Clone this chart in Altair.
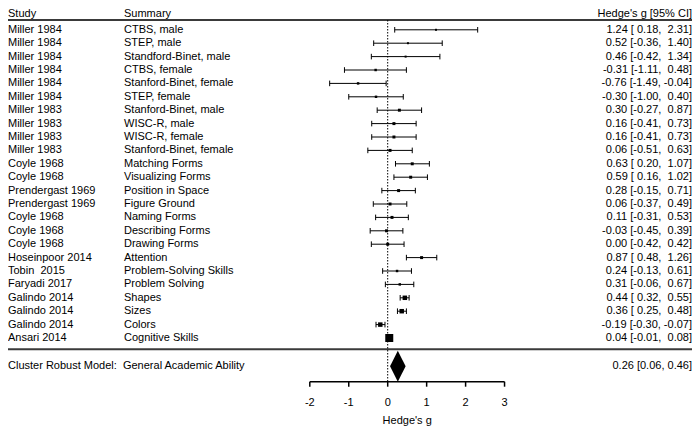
import altair as alt
import pandas as pd

# ---------------- data ----------------
studies = ["Miller 1984", "Miller 1984", "Miller 1984", "Miller 1984", "Miller 1984", "Miller 1984",
           "Miller 1983", "Miller 1983", "Miller 1983", "Miller 1983",
           "Coyle 1968", "Coyle 1968", "Prendergast 1969", "Prendergast 1969",
           "Coyle 1968", "Coyle 1968", "Coyle 1968", "Hoseinpoor 2014",
           "Tobin\u00a0 2015", "Faryadi 2017", "Galindo 2014", "Galindo 2014", "Galindo 2014",
           "Ansari 2014"]
summaries = ["CTBS, male", "STEP, male", "Standford-Binet, male", "CTBS, female",
             "Stanford-Binet, female", "STEP, female", "Stanford-Binet, male", "WISC-R, male",
             "WISC-R, female", "Stanford-Binet, female", "Matching Forms", "Visualizing Forms",
             "Position in Space", "Figure Ground", "Naming Forms", "Describing Forms",
             "Drawing Forms", "Attention", "Problem-Solving Skills", "Problem Solving",
             "Shapes", "Sizes", "Colors", "Cognitive Skills"]
estimates = [1.24, 0.52, 0.46, -0.31, -0.76, -0.30, 0.30, 0.16, 0.16, 0.06, 0.63, 0.59,
             0.28, 0.06, 0.11, -0.03, 0.00, 0.87, 0.24, 0.31, 0.44, 0.36, -0.19, 0.04]
ci_lower = [0.18, -0.36, -0.42, -1.11, -1.49, -1.00, -0.27, -0.41, -0.41, -0.51, 0.20, 0.16,
            -0.15, -0.37, -0.31, -0.45, -0.42, 0.48, -0.13, -0.06, 0.32, 0.25, -0.30, -0.01]
ci_upper = [2.31, 1.40, 1.34, 0.48, -0.04, 0.40, 0.87, 0.73, 0.73, 0.63, 1.07, 1.02,
            0.71, 0.49, 0.53, 0.39, 0.42, 1.26, 0.61, 0.67, 0.55, 0.48, -0.07, 0.08]
# relative study weights
weights = [1.0, 1.0, 1.0, 1.5, 1.5, 1.5, 2.2, 2.2, 2.2, 2.2, 2.2, 2.2,
           2.2, 2.2, 2.2, 2.2, 2.2, 2.2, 1.5, 1.5, 5.0, 5.0, 5.0, 16.0]

pooled_name = "Cluster Robust Model:\u00a0 General Academic Ability"
pooled_est, pooled_lo, pooled_hi = 0.26, 0.06, 0.46
headers = ["Study", "Summary", "Hedge's g [95% CI]"]
tick_values = [-2, -1, 0, 1, 2, 3]
axis_title = "Hedge's g"

# ---------------- layout ----------------
W, H = 684, 419
FONT = "Liberation Sans"
FS = 11
X_ZERO_PAGE, UNIT_PX = 387.7, 38.95
ROW1_PAGE, ROW_STEP = 29.8, 13.4


def row_at(page_y):
    return 1 + (page_y - ROW1_PAGE) / ROW_STEP


x_dom = [-(X_ZERO_PAGE - 8) / UNIT_PX, (W - (X_ZERO_PAGE - 8)) / UNIT_PX]
y_dom = [row_at(8 + H), row_at(8)]
xs = alt.Scale(domain=x_dom, nice=False, zero=False)
ys = alt.Scale(domain=y_dom, nice=False, zero=False)

HEADER_R = row_at(14.2)
TOPLINE_R = row_at(20.0)
BOTLINE_R = row_at(349.3)
POOLED_R = row_at(366.3)
DIAMOND_H = 15.5 / ROW_STEP
AXIS_R = row_at(381.7)
TICK_END_R = row_at(386.7)
TICKLAB_R = row_at(402.7)
TITLE_R = row_at(421.0)
CAP = 2.8 / ROW_STEP

COL_STUDY, COL_SUMMARY, COL_RIGHT = 0, 116, W

NB = "\u00a0"


def fmt_ci(e, l, h):
    s = f"{e:.2f} [{l:5.2f}, {h:5.2f}]"
    return s.replace(" ", NB)


df = pd.DataFrame({
    "study": studies,
    "summary": summaries,
    "est": estimates,
    "lo": ci_lower,
    "hi": ci_upper,
    "w": weights,
})
df["r"] = range(1, len(df) + 1)
df["label"] = [fmt_ci(e, l, h) for e, l, h in zip(estimates, ci_lower, ci_upper)]

X = lambda f: alt.X(f, scale=xs, axis=None)
Y = lambda f: alt.Y(f, scale=ys, axis=None)

base = alt.Chart(df)

bars = base.mark_rule(color="black", strokeWidth=1).encode(
    x=X("lo:Q"), x2="hi:Q", y=Y("r:Q"))

caps = base.transform_fold(["lo", "hi"], as_=["k", "v"]).transform_calculate(
    y1=f"datum.r - {CAP}", y2=f"datum.r + {CAP}"
).mark_rule(color="black", strokeWidth=1).encode(
    x=X("v:Q"), y=Y("y1:Q"), y2="y2:Q")

squares = base.mark_square(color="black", opacity=1).encode(
    x=X("est:Q"), y=Y("r:Q"),
    size=alt.Size("w:Q", scale=alt.Scale(domain=[0, 16], range=[0, 64]), legend=None))


def text_layer(data, field, xpx, align, y_field="r"):
    return alt.Chart(data).mark_text(
        align=align, baseline="middle", font=FONT, fontSize=FS, color="black"
    ).encode(x=alt.value(xpx), y=Y(f"{y_field}:Q"), text=f"{field}:N")


t_study = text_layer(df, "study", COL_STUDY, "left")
t_summary = text_layer(df, "summary", COL_SUMMARY, "left")
t_label = text_layer(df, "label", COL_RIGHT, "right")

hdr = pd.DataFrame({"t": headers, "r": [HEADER_R] * 3})
h1 = text_layer(hdr.iloc[[0]], "t", COL_STUDY, "left")
h2 = text_layer(hdr.iloc[[1]], "t", COL_SUMMARY, "left")
h3 = text_layer(hdr.iloc[[2]], "t", COL_RIGHT, "right")

pooled_df = pd.DataFrame({
    "name": [pooled_name],
    "label": [f"{pooled_est:.2f} [{pooled_lo:.2f}, {pooled_hi:.2f}]"],
    "r": [POOLED_R],
})
p1 = text_layer(pooled_df, "name", COL_STUDY, "left")
p2 = text_layer(pooled_df, "label", COL_RIGHT, "right")

seps = alt.Chart(pd.DataFrame({"r": [TOPLINE_R, BOTLINE_R]})).mark_rule(
    color="#3a3a3a", strokeWidth=2).encode(
    x=alt.value(0), x2=alt.value(W), y=Y("r:Q"))

zero_line = alt.Chart(pd.DataFrame({"v": [0], "a": [TOPLINE_R], "b": [AXIS_R]})).mark_rule(
    color="black", strokeWidth=1, strokeDash=[1.5, 1.5]).encode(
    x=X("v:Q"), y=Y("a:Q"), y2="b:Q")

diamond_df = pd.DataFrame({"x": [pooled_lo, pooled_est, pooled_hi], "half": [0, 1, 0]})
diamond = alt.Chart(diamond_df).transform_calculate(
    top=f"{POOLED_R} - {DIAMOND_H} * datum.half",
    bot=f"{POOLED_R} + {DIAMOND_H} * datum.half",
).mark_area(color="black", orient="vertical", opacity=1).encode(
    x=X("x:Q"), y=Y("top:Q"), y2="bot:Q")

axis_line = alt.Chart(pd.DataFrame({"a": [min(tick_values)], "b": [max(tick_values)],
                                    "r": [AXIS_R]})).mark_rule(
    color="black", strokeWidth=1.5).encode(x=X("a:Q"), x2="b:Q", y=Y("r:Q"))

ticks_df = pd.DataFrame({"v": tick_values, "a": AXIS_R, "b": TICK_END_R, "r": TICKLAB_R})
ticks_df["lab"] = [str(v) for v in tick_values]
ticks = alt.Chart(ticks_df).mark_rule(color="black", strokeWidth=1.5).encode(
    x=X("v:Q"), y=Y("a:Q"), y2="b:Q")
tick_labels = alt.Chart(ticks_df).mark_text(
    baseline="middle", align="center", font=FONT, fontSize=FS, color="black").encode(
    x=X("v:Q"), y=Y("r:Q"), text="lab:N")

title_df = pd.DataFrame({"v": [(min(tick_values) + max(tick_values)) / 2],
                         "r": [TITLE_R], "t": [axis_title]})
title = alt.Chart(title_df).mark_text(
    baseline="middle", align="center", font=FONT, fontSize=FS, color="black").encode(
    x=X("v:Q"), y=Y("r:Q"), text="t:N")

chart = alt.layer(
    seps, zero_line, bars, caps, squares, diamond,
    t_study, t_summary, t_label, h1, h2, h3, p1, p2,
    axis_line, ticks, tick_labels, title,
).properties(
    width=W, height=H, padding=0, autosize=alt.AutoSizeParams(type="none")
).configure_view(stroke=None)

chart.save("out.html", embed_options={"renderer": "svg", "actions": False})
